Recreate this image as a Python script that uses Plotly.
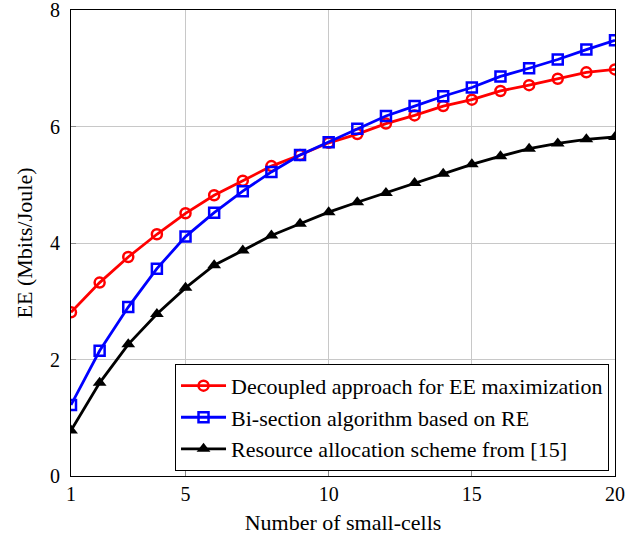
import plotly.graph_objects as go

x_cells = list(range(1, 21))
ee_decoupled = [2.81, 3.32, 3.76, 4.15, 4.51, 4.82, 5.07, 5.32, 5.51, 5.72,
                5.87, 6.05, 6.19, 6.35, 6.46, 6.61, 6.71, 6.82, 6.93, 6.98]
ee_bisection = [1.22, 2.15, 2.90, 3.56, 4.11, 4.52, 4.89, 5.22, 5.51, 5.73,
                5.96, 6.18, 6.35, 6.52, 6.67, 6.86, 7.00, 7.15, 7.32, 7.48]
ee_resource = [0.78, 1.60, 2.26, 2.78, 3.23, 3.62, 3.87, 4.13, 4.33, 4.53,
               4.70, 4.86, 5.03, 5.19, 5.35, 5.49, 5.62, 5.71, 5.78, 5.82]
series_names = ["Decoupled approach for EE maximization",
                "Bi-section algorithm based on RE",
                "Resource allocation scheme from [15]"]
x_ticks = [1, 5, 10, 15, 20]
y_ticks = [0, 2, 4, 6, 8]

FONT = "Liberation Serif, Times New Roman, serif"

fig = go.Figure()
fig.add_trace(go.Scatter(
    x=x_cells, y=ee_decoupled, name=series_names[0], mode="lines+markers",
    line=dict(color="#ff0000", width=2.8),
    marker=dict(symbol="circle-open", size=10, color="#ff0000",
                line=dict(width=2.5, color="#ff0000"))))
fig.add_trace(go.Scatter(
    x=x_cells, y=ee_bisection, name=series_names[1], mode="lines+markers",
    line=dict(color="#0000ff", width=2.8),
    marker=dict(symbol="square-open", size=10, color="#0000ff",
                line=dict(width=2.5, color="#0000ff"))))
fig.add_trace(go.Scatter(
    x=x_cells, y=ee_resource, name=series_names[2], mode="lines+markers",
    line=dict(color="#000000", width=2.8),
    marker=dict(symbol="triangle-up", size=12, color="#000000")))

axis_common = dict(
    showgrid=True, gridcolor="#c8c8c8", gridwidth=1,
    showline=True, linecolor="black", linewidth=1, mirror=True,
    ticks="inside", ticklen=5, tickcolor="#888888",
    zeroline=False, automargin=False, ticklabeloverflow="allow",
    tickfont=dict(family=FONT, size=20, color="black"),
)

fig.update_xaxes(range=[1, 20], tickvals=x_ticks, ticklabelstandoff=0,
                 title=dict(text="Number of small-cells",
                            font=dict(family=FONT, size=22, color="black"),
                            standoff=10),
                 **axis_common)
fig.update_yaxes(range=[0, 8], tickvals=y_ticks, ticklabelstandoff=6,
                 title=dict(text="EE (Mbits/Joule)",
                            font=dict(family=FONT, size=22, color="black"),
                            standoff=11),
                 **axis_common)

fig.update_layout(
    width=644, height=537,
    margin=dict(l=71, r=29, t=10, b=61),
    plot_bgcolor="white", paper_bgcolor="white",
    font=dict(family=FONT, size=22, color="black"),
    legend=dict(x=0.989, y=0.011, xanchor="right", yanchor="bottom",
                bgcolor="white", bordercolor="black", borderwidth=1,
                font=dict(family=FONT, size=22, color="black"),
                itemwidth=45, tracegroupgap=0),
    showlegend=True,
)

fig.write_html("out.html", config={"displayModeBar": False},
               post_script="document.body.style.margin='0';")
